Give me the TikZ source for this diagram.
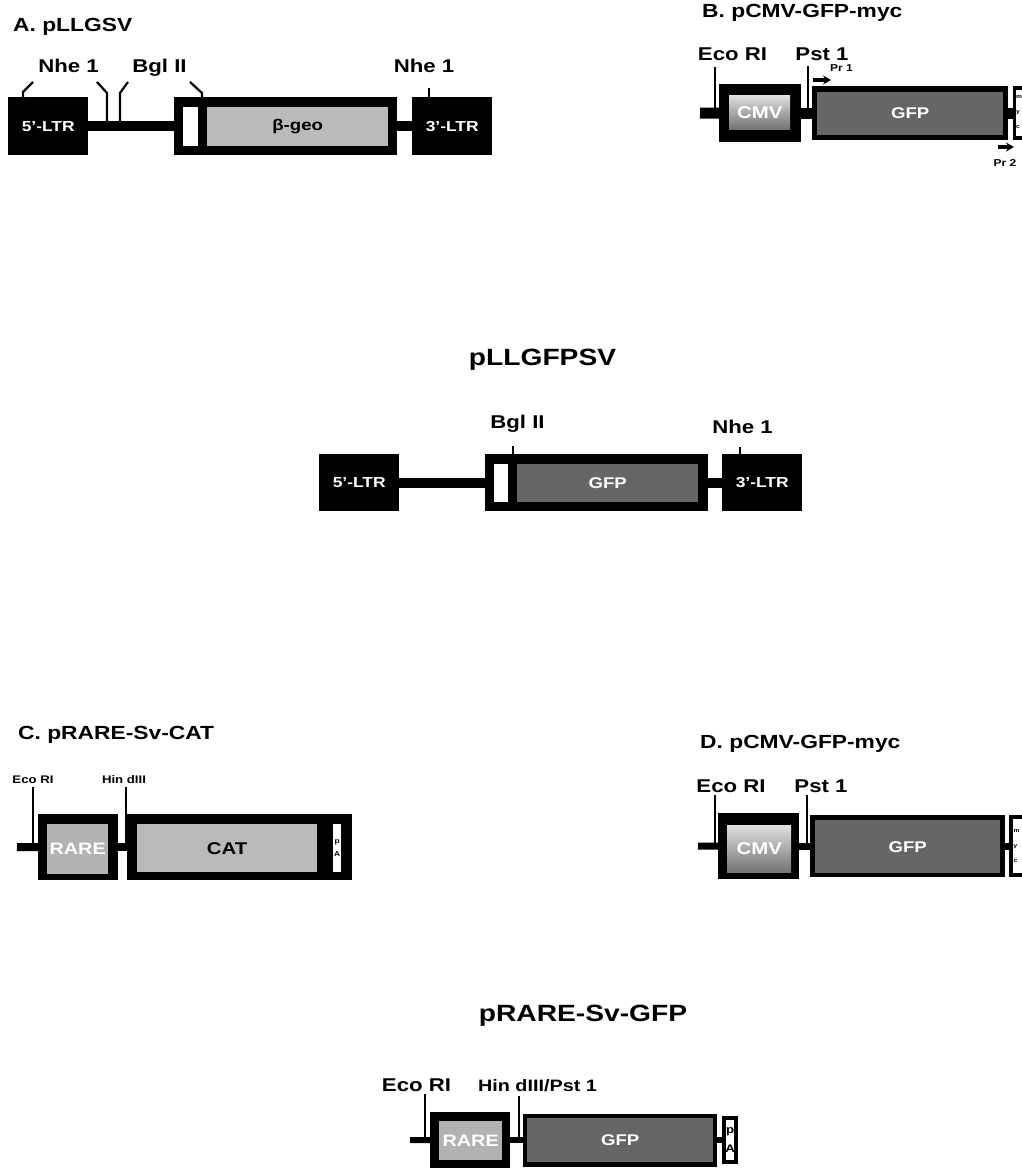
\documentclass[tikz,border=0pt]{standalone}
\usepackage{fontspec}
\setmainfont{Liberation Sans}[FakeStretch=1.2]
\usepackage{tikz}
\usetikzlibrary{arrows.meta, positioning}

\begin{document}
\begin{tikzpicture}[x=1pt, y=-1pt, >={Stealth[length=8pt,width=9pt]},
  paneltitle/.style={font=\bfseries\fontsize{19}{22}\selectfont, anchor=base west, inner sep=0},
  plasmid/.style={font=\bfseries\fontsize{23.5}{26}\selectfont, anchor=base, inner sep=0},
  sitelabel/.style={font=\bfseries\fontsize{18.5}{21}\selectfont, anchor=base, inner sep=0},
  smallsite/.style={font=\bfseries\fontsize{11}{13}\selectfont, anchor=base, inner sep=0},
  primerlabel/.style={font=\bfseries\fontsize{10}{12}\selectfont, anchor=base, inner sep=0},
  frame/.style={fill=black, inner sep=0, anchor=north west},
  ltr/.style={frame, minimum width=80pt, text=white, font=\bfseries\fontsize{14.5}{17}\selectfont},
  slot/.style={fill=white, inner sep=0, anchor=north west},
  geofill/.style={fill=black!27, inner sep=0, anchor=north west, font=\bfseries\fontsize{15.5}{18}\selectfont},
  gfpfill/.style={fill=black!60, inner sep=0, anchor=north west, text=white, font=\bfseries\fontsize{15.5}{18}\selectfont},
  cmvfill/.style={top color=black!12, bottom color=black!55, inner sep=0, anchor=north west, text=white, font=\bfseries\fontsize{17}{19}\selectfont},
  rarefill/.style={fill=black!30, inner sep=0, anchor=north west, text=white, font=\bfseries\fontsize{16.5}{19}\selectfont},
  letters/.style={inner sep=0, align=left, font=\bfseries\fontsize{5.5}{15}\selectfont},
  dna/.style={line width=#1, line cap=butt}, dna/.default=10pt,
  sitemark/.style={line width=2.2pt, line cap=butt, line join=miter},
  primer/.style={line width=3.5pt}]
  \useasboundingbox (0,0) rectangle (1021,1169);

  % A. pLLGSV
  \node[paneltitle] (titleA) at (13,32) {A. pLLGSV};
  \node[ltr, minimum height=58pt] (ltr5A) at (8,97) {5'-LTR};
  \node[frame, minimum width=223pt, minimum height=58pt] (geoA) at (174,97) {};
  \node[slot, minimum width=15pt, minimum height=39pt] (slotA) at (183,107) {};
  \node[geofill, minimum width=181pt, minimum height=39pt] (geoAin) at (207,107) {β-geo};
  \node[ltr, minimum height=58pt] (ltr3A) at (412,97) {3'-LTR};
  \draw[dna] (ltr5A.east) -- (geoA.west);
  \draw[dna] (geoA.east) -- (ltr3A.west);
  \coordinate (nheA1) at (23,97);
  \coordinate (nheA2) at (107,126);
  \coordinate (bglA1) at (120,126);
  \coordinate (bglA2) at (202,97);
  \coordinate (nheA3) at (429,97);
  \draw[sitemark] (nheA1) -- ++(0,-5) -- ++(10,-10);
  \draw[sitemark] (nheA2) -- ++(0,-33) -- ++(-10,-11);
  \draw[sitemark] (bglA1) -- ++(0,-33) -- ++(8,-11);
  \draw[sitemark] (bglA2) -- ++(0,-4) -- ++(-12,-11);
  \draw[sitemark] (nheA3) -- ++(0,-9);
  \node[sitelabel] (nheAlab) at (68.5,73) {Nhe 1};
  \node[sitelabel] (bglAlab) at (159.5,73) {Bgl II};
  \node[sitelabel] (nheA3lab) at (424,73) {Nhe 1};

  % B. pCMV-GFP-myc
  \node[paneltitle] (titleB) at (702,18) {B. pCMV-GFP-myc};
  \coordinate (startB) at (700,113);
  \node[frame, minimum width=82pt, minimum height=58pt] (cmvB) at (719,84) {};
  \node[cmvfill, minimum width=61pt, minimum height=34pt] (cmvBin) at (729,95) {CMV};
  \node[frame, minimum width=196pt, minimum height=54pt] (gfpB) at (812,86) {};
  \node[gfpfill, minimum width=186pt, minimum height=43pt] (gfpBin) at (817,91.5) {GFP};
  \node[frame, minimum width=20pt, minimum height=54pt] (mycB) at (1013,86) {};
  \node[slot, minimum width=16pt, minimum height=46pt] (mycBin) at (1016,90) {};
  \node[letters, anchor=west] (mycBtxt) at (1016,112) {m\\y\\c};
  \draw[dna=11pt] (startB) -- (cmvB.west);
  \draw[dna=11pt] (cmvB.east) -- (gfpB.west);
  \draw[dna=11pt] (gfpB.east) -- (mycB.west);
  \coordinate (ecoB) at (715,113);
  \coordinate (pstB) at (808,113);
  \draw[sitemark] (ecoB) -- ++(0,-46);
  \draw[sitemark] (pstB) -- ++(0,-47);
  \node[sitelabel] (ecoBlab) at (732.5,61) {Eco RI};
  \node[sitelabel] (pstBlab) at (822,61) {Pst 1};
  \coordinate (pr1B) at (813,80);
  \coordinate (pr2B) at (998,147);
  \draw[primer, ->] (pr1B) -- ++(18,0);
  \draw[primer, ->] (pr2B) -- ++(16,0);
  \node[primerlabel] (pr1Blab) at (841.5,72) {Pr 1};
  \node[primerlabel] (pr2Blab) at (1005,167) {Pr 2};

  % pLLGFPSV
  \node[plasmid] (titleLL) at (542.5,365) {pLLGFPSV};
  \node[ltr, minimum height=57pt] (ltr5L) at (319,454) {5'-LTR};
  \node[frame, minimum width=223pt, minimum height=57pt] (gfpL) at (485,454) {};
  \node[slot, minimum width=14pt, minimum height=38pt] (slotL) at (494,464) {};
  \node[gfpfill, minimum width=181pt, minimum height=38pt] (gfpLin) at (517,464) {GFP};
  \node[ltr, minimum height=57pt] (ltr3L) at (722,454) {3'-LTR};
  \draw[dna] (ltr5L.east) -- (gfpL.west);
  \draw[dna] (gfpL.east) -- (ltr3L.west);
  \coordinate (bglL) at (513,454);
  \coordinate (nheL) at (740,454);
  \draw[sitemark] (bglL) -- ++(0,-8);
  \draw[sitemark] (nheL) -- ++(0,-7);
  \node[sitelabel] (bglLlab) at (517.5,428) {Bgl II};
  \node[sitelabel] (nheLlab) at (742.5,433) {Nhe 1};

  % C. pRARE-Sv-CAT
  \node[paneltitle] (titleC) at (18,739) {C. pRARE-Sv-CAT};
  \coordinate (startC) at (17,847);
  \node[frame, minimum width=80pt, minimum height=66pt] (rareC) at (38,814) {};
  \node[rarefill, minimum width=61pt, minimum height=50pt] (rareCin) at (47,824) {RARE};
  \node[frame, minimum width=225pt, minimum height=66pt] (catC) at (127,814) {};
  \node[geofill, minimum width=180pt, minimum height=48pt, font=\bfseries\fontsize{17}{19}\selectfont] (catCin) at (137,824) {CAT};
  \node[slot, minimum width=8pt, minimum height=48pt] (pAC) at (333,824) {};
  \node[letters, align=center, font=\bfseries\fontsize{7}{13}\selectfont] (pACtxt) at (pAC.center) {p\\A};
  \draw[dna=8pt] (startC) -- (rareC.west);
  \draw[dna=8pt] (rareC.east) -- (catC.west);
  \coordinate (ecoC) at (33,847);
  \coordinate (hinC) at (126,847);
  \draw[sitemark] (ecoC) -- ++(0,-60);
  \draw[sitemark] (hinC) -- ++(0,-60);
  \node[smallsite] (ecoClab) at (33,783) {Eco RI};
  \node[smallsite] (hinClab) at (124,783) {Hin dIII};

  % D. pCMV-GFP-myc
  \node[paneltitle] (titleD) at (700,748) {D. pCMV-GFP-myc};
  \coordinate (startD) at (698,846);
  \node[frame, minimum width=81pt, minimum height=66pt] (cmvD) at (718,813) {};
  \node[cmvfill, minimum width=64pt, minimum height=47pt] (cmvDin) at (727,825) {CMV};
  \node[frame, minimum width=195pt, minimum height=62pt] (gfpD) at (810,815) {};
  \node[gfpfill, minimum width=185pt, minimum height=53pt] (gfpDin) at (815,820) {GFP};
  \node[frame, minimum width=21pt, minimum height=62pt] (mycD) at (1009,815) {};
  \node[slot, minimum width=17pt, minimum height=54pt] (mycDin) at (1013,819) {};
  \node[letters, anchor=west] (mycDtxt) at (1013.5,846) {m\\y\\c};
  \draw[dna=7pt] (startD) -- (cmvD.west);
  \draw[dna=7pt] (cmvD.east) -- (gfpD.west);
  \draw[dna=7pt] (gfpD.east) -- (mycD.west);
  \coordinate (ecoD) at (715,846);
  \coordinate (pstD) at (807,846);
  \draw[sitemark] (ecoD) -- ++(0,-51);
  \draw[sitemark] (pstD) -- ++(0,-51);
  \node[sitelabel] (ecoDlab) at (731,792) {Eco RI};
  \node[sitelabel] (pstDlab) at (821,792) {Pst 1};

  % pRARE-Sv-GFP
  \node[plasmid] (titleRG) at (583,1021) {pRARE-Sv-GFP};
  \coordinate (startR) at (410,1140);
  \node[frame, minimum width=80pt, minimum height=56pt] (rareR) at (430,1112) {};
  \node[rarefill, minimum width=63pt, minimum height=39pt] (rareRin) at (439,1121) {RARE};
  \node[frame, minimum width=194pt, minimum height=53pt] (gfpR) at (523,1113.5) {};
  \node[gfpfill, minimum width=186pt, minimum height=44pt] (gfpRin) at (527,1118) {GFP};
  \node[frame, minimum width=16pt, minimum height=48pt] (pAR) at (722,1116) {};
  \node[slot, minimum width=8pt, minimum height=40pt] (pARin) at (726,1120) {};
  \node[letters, align=center, font=\bfseries\fontsize{11}{19}\selectfont] (pARtxt) at (pARin.center) {p\\A};
  \draw[dna=6pt] (startR) -- (rareR.west);
  \draw[dna=6pt] (rareR.east) -- (gfpR.west);
  \draw[dna=6pt] (gfpR.east) -- (pAR.west);
  \coordinate (ecoR) at (425,1140);
  \coordinate (hinR) at (519,1140);
  \draw[sitemark] (ecoR) -- ++(0,-46);
  \draw[sitemark] (hinR) -- ++(0,-44);
  \node[sitelabel] (ecoRlab) at (416.5,1091) {Eco RI};
  \node[sitelabel, font=\bfseries\fontsize{16.5}{19}\selectfont] (hinRlab) at (537.5,1091) {Hin dIII/Pst 1};
\end{tikzpicture}
\end{document}
